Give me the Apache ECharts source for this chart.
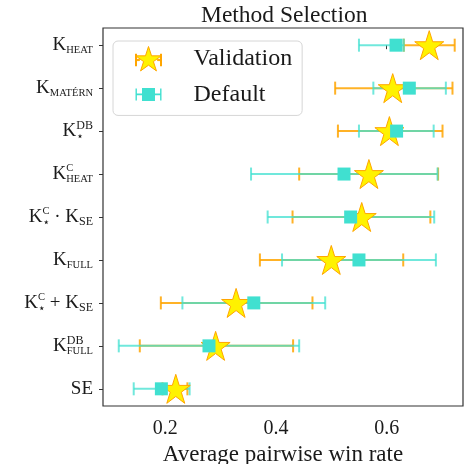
<!DOCTYPE html>
<html>
<head>
<meta charset="utf-8">
<script src="https://cdn.jsdelivr.net/npm/echarts@6/dist/echarts.min.js"></script>
<style>
  html, body { margin: 0; padding: 0; background: #fff; }
  #chart { width: 466px; height: 464px; }
</style>
</head>
<body>
<div id="chart"></div>
<script>
// kernel names (rich text), top to bottom
const methods = [
  "{k|K}{sc|HEAT}",
  "{k|K}{sc|MATÉRN}",
  "{k|K}{stz|⋆}{sup|DB}",
  "{k|K}{supzC|C}{sc|HEAT}",
  "{k|K}{stz|⋆}{supc|C}{k| · K}{sub|SE}",
  "{k|K}{sc|FULL}",
  "{k|K}{stz|⋆}{supc|C}{k| + K}{sub|SE}",
  "{k|K}{supzDB|DB}{sc|FULL}",
  "{k|SE}",
];

// Validation (star, orange bars)
const valMean = [0.677, 0.611, 0.605, 0.568, 0.555, 0.500, 0.328, 0.291, 0.219];
const valLow  = [0.631, 0.507, 0.512, 0.442, 0.430, 0.371, 0.192, 0.154, 0.195];
const valHigh = [0.723, 0.719, 0.701, 0.693, 0.679, 0.630, 0.466, 0.431, 0.240];

// Default (square, turquoise bars)
const defMean = [0.617, 0.641, 0.618, 0.523, 0.535, 0.550, 0.360, 0.279, 0.193];
const defLow  = [0.550, 0.576, 0.550, 0.355, 0.385, 0.411, 0.231, 0.116, 0.143];
const defHigh = [0.631, 0.707, 0.685, 0.692, 0.686, 0.689, 0.489, 0.442, 0.244];

const xTicks = [0.2, 0.4, 0.6];
const yTicks = methods.map((m, i) => i);

const SERIF = "Liberation Serif";
const ORANGE = "#FFA500";
const TEAL = "#40E0D0";
const YELLOW = "#FFF200";
const INK = "#1a1a1a";

function starPath(cx, cy, R) {
  const r = R * 0.382;
  let d = "";
  for (let i = 0; i < 10; i++) {
    const rad = i % 2 === 0 ? R : r;
    const a = -Math.PI / 2 + (i * Math.PI) / 5;
    d += (i === 0 ? "M" : "L") + (cx + rad * Math.cos(a)).toFixed(2) + "," + (cy + rad * Math.sin(a)).toFixed(2);
  }
  return d + "Z";
}

// text width, used so a script token takes no room (super/sub stacked)
const mctx = document.createElement("canvas").getContext("2d");
function textW(txt, size, family) {
  mctx.font = size + 'px "' + family + '"';
  return mctx.measureText(txt).width;
}
// zero-width rich token drawn starting at the next token's left edge
function stacked(txt, size, family, vpad) {
  const w = textW(txt, size, family);
  return {
    fontFamily: family, fontSize: size, color: INK, width: 0,
    padding: [vpad[0], -w, vpad[1], w],
  };
}

// legend icons: error bar + marker, with a dummy point so text sits further right
const valIcon = "path://" + starPath(13, 13, 13.5) +
  "M0,12.4H4V13.6H0Z M22,12.4H26V13.6H22Z M0,7H1V19H0Z M25,7H26V19H25Z M53,13L53,13";
const defIcon = "path://M0,12.2H26V13.8H0Z M0,7H1.4V19H0Z M24.6,7H26V19H24.6Z M6.5,6.5H19.5V19.5H6.5Z M53,13L53,13";

function errRender(color, opacity) {
  return function (params, api) {
    const y = api.value(0);
    const a = api.coord([api.value(1), y]);
    const b = api.coord([api.value(2), y]);
    const style = { stroke: color, lineWidth: 2, opacity: opacity };
    const cap = 6.5;
    return {
      type: "group",
      children: [
        { type: "line", shape: { x1: a[0], y1: a[1], x2: b[0], y2: b[1] }, style },
        { type: "line", shape: { x1: a[0], y1: a[1] - cap, x2: a[0], y2: a[1] + cap }, style },
        { type: "line", shape: { x1: b[0], y1: b[1] - cap, x2: b[0], y2: b[1] + cap }, style },
      ],
    };
  };
}

const chart = echarts.init(document.getElementById("chart"), null, { renderer: "canvas" });

const option = {
  animation: false,
  backgroundColor: "#fff",
  title: {
    text: "Method Selection",
    left: 201,
    top: 4,
    padding: 0,
    textStyle: { fontFamily: SERIF, fontSize: 23.5, fontWeight: "normal", color: INK },
  },
  grid: {
    left: 103, right: 3, top: 28, bottom: 58,
    outerBoundsMode: "none",
    show: true, borderColor: "#333", borderWidth: 1.2,
  },
  legend: {
    orient: "vertical",
    left: 113,
    top: 41,
    padding: [5, 10, 9, 22],
    itemGap: 11,
    itemWidth: 53,
    itemHeight: 26,
    selectedMode: false,
    backgroundColor: "#fff",
    borderColor: "#d6d6d6",
    borderWidth: 1,
    borderRadius: 5,
    textStyle: { fontFamily: SERIF, fontSize: 24, color: INK },
    data: [
      { name: "Validation", icon: valIcon, itemStyle: { color: YELLOW, borderColor: ORANGE, borderWidth: 1 } },
      { name: "Default", icon: defIcon, itemStyle: { color: TEAL, borderWidth: 0 } },
    ],
  },
  xAxis: {
    type: "value",
    min: 0.0875,
    max: 0.738,
    name: "Average pairwise win rate",
    nameLocation: "middle",
    nameGap: 31,
    nameTextStyle: { fontFamily: SERIF, fontSize: 23, color: INK },
    splitLine: { show: false },
    axisLine: { show: false },
    axisTick: { show: true, inside: false, length: 4, customValues: xTicks, lineStyle: { color: "#333" } },
    axisLabel: {
      customValues: xTicks,
      margin: 13,
      fontFamily: SERIF, fontSize: 20, color: INK,
      formatter: (v) => v.toFixed(1),
    },
  },
  yAxis: {
    type: "value",
    inverse: true,
    min: -0.4,
    max: 8.4,
    splitLine: { show: false },
    axisLine: { show: false },
    axisTick: { show: true, inside: false, length: 4, customValues: yTicks, lineStyle: { color: "#333" } },
    axisLabel: {
      customValues: yTicks,
      margin: 10,
      color: INK,
      formatter: (v) => methods[Math.round(v)],
      rich: {
        k: { fontFamily: SERIF, fontSize: 19, color: INK },
        sc: { fontFamily: SERIF, fontSize: 10.5, color: INK, padding: [10, 0, 0, 0] },
        sub: { fontFamily: SERIF, fontSize: 12, color: INK, padding: [9, 0, 0, 0] },
        sup: { fontFamily: SERIF, fontSize: 12, color: INK, padding: [0, 0, 11, 0] },
        supc: { fontFamily: SERIF, fontSize: 10.5, color: INK, padding: [0, 0, 12, 0] },
        supzC: stacked("C", 10.5, SERIF, [0, 12]),
        supzDB: stacked("DB", 12, SERIF, [0, 11]),
        stz: stacked("⋆", 12, "DejaVu Sans", [11, 0]),
      },
    },
  },
  series: [
    {
      name: "ValidationErr",
      type: "custom",
      renderItem: errRender(ORANGE, 0.85),
      data: valLow.map((lo, i) => [i, lo, valHigh[i]]),
      encode: { x: [1, 2], y: 0 },
      z: 2,
    },
    {
      name: "DefaultErr",
      type: "custom",
      renderItem: errRender(TEAL, 0.75),
      data: defLow.map((lo, i) => [i, lo, defHigh[i]]),
      encode: { x: [1, 2], y: 0 },
      z: 3,
    },
    {
      name: "Validation",
      type: "scatter",
      symbol: "path://" + starPath(0, 0, 10),
      symbolSize: 29,
      itemStyle: { color: YELLOW, borderColor: ORANGE, borderWidth: 1, opacity: 1 },
      data: valMean.map((v, i) => [v, i]),
      z: 4,
    },
    {
      name: "Default",
      type: "scatter",
      symbol: "rect",
      symbolSize: 13,
      itemStyle: { color: TEAL, opacity: 1 },
      data: defMean.map((v, i) => [v, i]),
      z: 5,
    },
  ],
};

chart.setOption(option);
window.addEventListener("resize", () => chart.resize());
</script>
</body>
</html>
